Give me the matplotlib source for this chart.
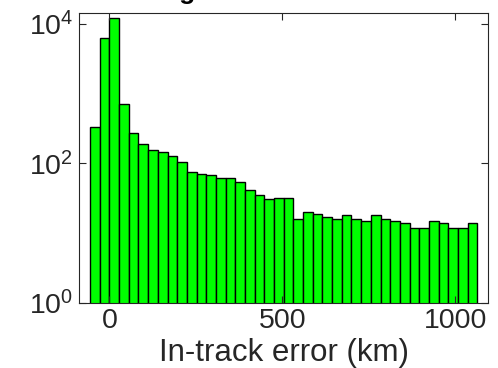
import matplotlib
matplotlib.use('Agg')
import matplotlib.pyplot as plt
import numpy as np

# histogram counts (40 bins, ~28 km wide)
bin_start = -56
bin_width = 28
counts = [337, 6400, 12300, 700, 274, 189, 158, 146, 126, 105,
          76, 70, 68, 61, 61, 54, 42, 35, 31, 32,
          32, 16, 20, 19, 17, 16, 18, 16, 15, 18,
          16, 15, 14, 12, 12, 15, 14, 12, 12, 14]
xticks = [0, 500, 1000]
yticks = [1, 100, 10000]
ytick_labels = ['$10^0$', '$10^2$', '$10^4$']

plt.rcParams['font.family'] = ['Liberation Sans', 'DejaVu Sans']
plt.rcParams['mathtext.fontset'] = 'custom'
plt.rcParams['mathtext.rm'] = 'Liberation Sans'
plt.rcParams['mathtext.it'] = 'Liberation Sans'

fig = plt.figure(figsize=(4.98, 3.68), dpi=100)
ax = fig.add_axes([0.1586, 0.1774, 0.8214, 0.7873])

lefts = bin_start + bin_width * np.arange(len(counts))
ax.bar(lefts, counts, width=bin_width, align='edge', color='#00ff00',
       edgecolor='black', linewidth=1.0, log=True)

ax.set_xlim(-88, 1095)
ax.set_ylim(1, 14400)
ax.set_xticks(xticks)
ax.set_yticks(yticks)
ax.set_yticklabels(ytick_labels)
ax.minorticks_off()
ax.tick_params(direction='in', top=True, right=True, length=5, width=0.8,
               labelsize=20.5, colors='#262626', pad=4)
for s in ax.spines.values():
    s.set_color('#262626')
    s.set_linewidth(0.8)

ax.set_xlabel('In-track error (km)', fontsize=22.5, color='#262626', labelpad=3)
fig.text(0.577, 1.004, 'Histogram of in-track errors', ha='center',
         va='baseline', fontsize=19, fontweight='bold', color='black')

fig.savefig('out.png', dpi=100)
